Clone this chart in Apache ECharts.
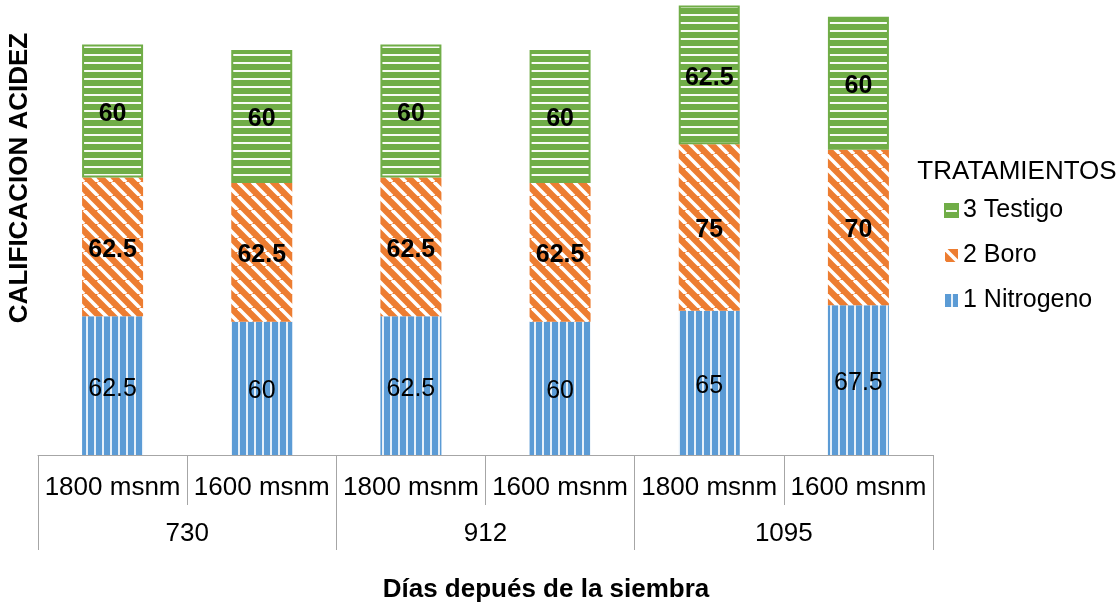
<!DOCTYPE html>
<html>
<head>
<meta charset="utf-8">
<script src="https://cdn.jsdelivr.net/npm/echarts@6/dist/echarts.min.js"></script>
<style>
  html, body { margin: 0; padding: 0; background: #ffffff; }
  #chart { width: 1120px; height: 605px; }
</style>
</head>
<body>
<div id="chart"></div>
<script>
// Sub-categories (altitude) and their groups (days after sowing)
const altitudes = ['1800 msnm', '1600 msnm', '1800 msnm', '1600 msnm', '1800 msnm', '1600 msnm'];
const dayGroups = ['730', '912', '1095'];

// Acidity scores per treatment
const nitrogeno = [62.5, 60, 62.5, 60, 65, 67.5];
const boro      = [62.5, 62.5, 62.5, 62.5, 75, 70];
const testigo   = [60, 60, 60, 60, 62.5, 60];

const seriesNames = ['1 Nitrogeno', '2 Boro', '3 Testigo'];
const legendOrder = ['3 Testigo', '2 Boro', '1 Nitrogeno'];

const FONT = 'Liberation Sans, Arial, sans-serif';

// Hatched fills
function verticalStripes() {
  const c = document.createElement('canvas');
  c.width = 8; c.height = 8;
  const g = c.getContext('2d');
  g.fillStyle = '#5B9BD5'; g.fillRect(0, 0, 8, 8);
  g.fillStyle = 'rgba(255,255,255,0.85)'; g.fillRect(6, 0, 2, 8);
  return c;
}
function diagonalStripes() {
  const s = 14;
  const c = document.createElement('canvas');
  c.width = s; c.height = s;
  const g = c.getContext('2d');
  g.fillStyle = '#ED7D31'; g.fillRect(0, 0, s, s);
  g.strokeStyle = '#ffffff'; g.lineWidth = 3.6;
  for (const k of [-s, 0, s]) {
    g.beginPath(); g.moveTo(k, 0); g.lineTo(k + s, s); g.stroke();
  }
  return c;
}
function horizontalStripes() {
  const c = document.createElement('canvas');
  c.width = 8; c.height = 8;
  const g = c.getContext('2d');
  g.fillStyle = '#70AD47'; g.fillRect(0, 0, 8, 8);
  g.fillStyle = 'rgba(255,255,255,0.95)'; g.fillRect(0, 6, 8, 2);
  return c;
}

const fills = [
  { image: verticalStripes(), repeat: 'repeat' },
  { image: diagonalStripes(), repeat: 'repeat' },
  { image: horizontalStripes(), repeat: 'repeat' }
];
const values = [nitrogeno, boro, testigo];

const chart = echarts.init(document.getElementById('chart'), null, { renderer: 'canvas' });

const series = values.map((data, i) => ({
  name: seriesNames[i],
  type: 'bar',
  stack: 'total',
  barWidth: 61,
  data: data,
  itemStyle: i === 2
    ? { color: fills[i], borderColor: '#70AD47', borderWidth: 2 }
    : { color: fills[i] },
  label: {
    show: true,
    position: 'inside',
    offset: [0, 3],
    color: '#000000',
    fontFamily: FONT,
    fontSize: 25,
    fontWeight: i === 0 ? 'normal' : 'bold',
    textBorderWidth: 0
  },
  emphasis: { disabled: true }
}));

chart.setOption({
  animation: false,
  backgroundColor: '#ffffff',
  grid: { left: 38, right: 187, top: 0, bottom: 150, containLabel: false },
  legend: {
    data: legendOrder,
    orient: 'vertical',
    left: 939,
    top: 193,
    itemWidth: 13,
    itemHeight: 13,
    itemGap: 20,
    icon: 'rect',
    textStyle: { fontFamily: FONT, fontSize: 25, color: '#000000', lineHeight: 25 }
  },
  xAxis: [
    {
      type: 'category',
      data: altitudes,
      position: 'bottom',
      axisLine: { show: true, lineStyle: { color: '#a6a6a6', width: 1 } },
      axisTick: { show: true, length: 50, lineStyle: { color: '#a6a6a6' } },
      axisLabel: { margin: 20, fontFamily: FONT, fontSize: 26, color: '#000000', interval: 0 }
    },
    {
      type: 'category',
      data: dayGroups,
      position: 'bottom',
      axisLine: { show: false },
      axisTick: { show: true, length: 95, lineStyle: { color: '#a6a6a6' } },
      axisLabel: { margin: 66, fontFamily: FONT, fontSize: 26, color: '#000000', interval: 0 }
    }
  ],
  yAxis: {
    type: 'value',
    min: 0,
    max: 205,
    show: false
  },
  graphic: [
    {
      type: 'text',
      x: 20, y: 178,
      rotation: Math.PI / 2,
      style: {
        text: 'CALIFICACION ACIDEZ',
        fontFamily: FONT, fontSize: 26, fontWeight: 'bold', fill: '#000000',
        align: 'center', verticalAlign: 'middle'
      }
    },
    {
      type: 'text',
      x: 546, y: 590,
      style: {
        text: 'Días depués de la siembra',
        fontFamily: FONT, fontSize: 26, fontWeight: 'bold', fill: '#000000',
        align: 'center', verticalAlign: 'middle'
      }
    },
    {
      type: 'text',
      x: 1017, y: 172,
      style: {
        text: 'TRATAMIENTOS',
        fontFamily: FONT, fontSize: 26, fill: '#000000',
        align: 'center', verticalAlign: 'middle'
      }
    }
  ],
  series: series
});
</script>
</body>
</html>
